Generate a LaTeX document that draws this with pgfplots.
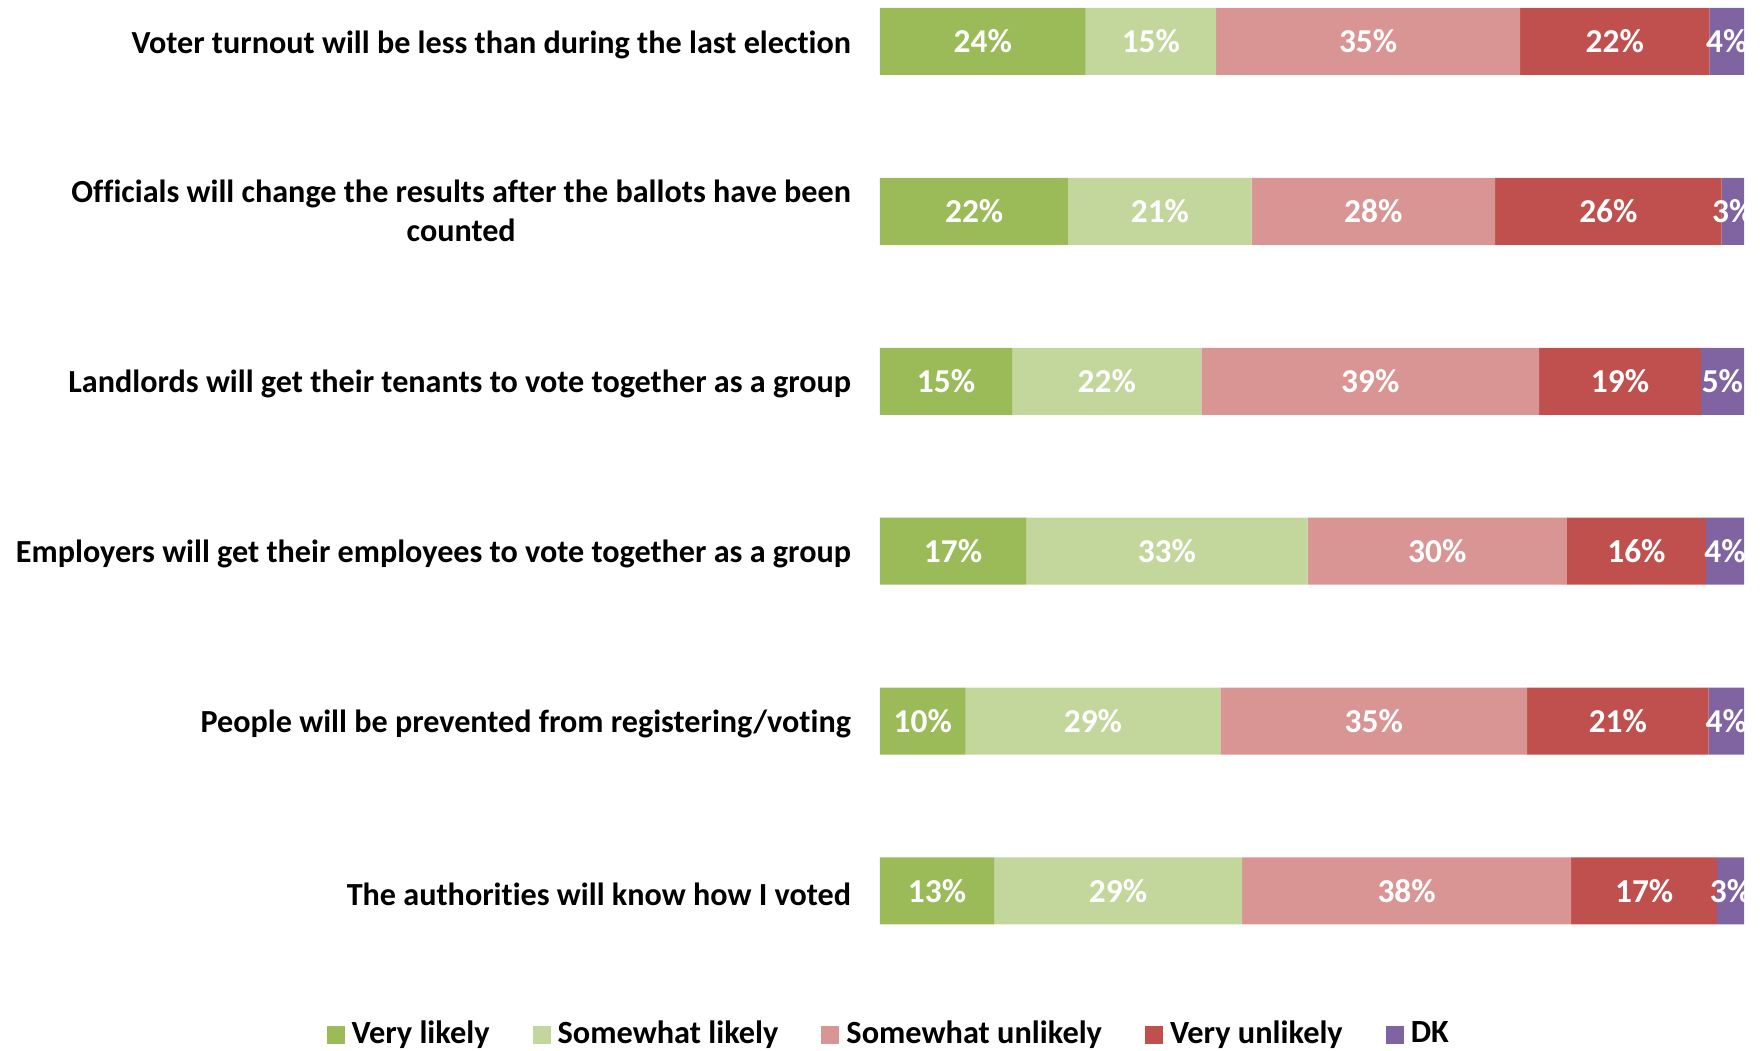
\documentclass[border=0pt]{standalone}
\usepackage{pgfplots}
\pgfplotsset{compat=1.18}
\usepackage{fontspec}
\setmainfont{Carlito}[Ligatures=NoCommon]
\definecolor{cVL}{HTML}{9BBB59}
\definecolor{cSL}{HTML}{C3D69B}
\definecolor{cSU}{HTML}{D99594}
\definecolor{cVU}{HTML}{C0504D}
\definecolor{cDK}{HTML}{8064A2}
\begin{document}
\begin{tikzpicture}
\useasboundingbox (0,0) rectangle (17.6,-10.51);
\begin{axis}[
  at={(8.80cm,0cm)}, anchor=north west,
  scale only axis, width=8.64cm, height=10.0cm,
  xbar stacked, bar width=0.67cm,
  xmin=0, xmax=100,
  ymin=-0.244, ymax=5.642, y dir=reverse,
  hide x axis,
  y axis line style={draw=none},
  major tick length=0pt,
  ytick={0,1,2,3,4,5},
  yticklabels={
    Voter turnout will be less than during the last election,
    {\raisebox{0.45mm}{\begin{tabular}{@{}c@{}}Officials will change the results after the ballots have been\\counted\end{tabular}}},
    Landlords will get their tenants to vote together as a group,
    Employers will get their employees to vote together as a group,
    People will be prevented from registering/voting,
    The authorities will know how I voted},
  yticklabel style={font=\fontsize{9.15}{11.1}\selectfont\bfseries, align=center, xshift=-0.166cm, yshift=-0.03cm},
  point meta=explicit symbolic,
  nodes near coords,
  every node near coord/.append style={font=\fontsize{9.5}{11}\selectfont\bfseries, text=white, anchor=center, inner sep=0pt},
  legend columns=5,
  legend style={draw=none, at={(0.013,-0.035)}, anchor=center, font=\fontsize{9.2}{11}\selectfont\bfseries,
    /tikz/every even column/.append style={column sep=0.36cm}},
  legend image code/.code={\fill[#1] (0cm,-0.09cm) rectangle (0.18cm,0.09cm);},
]
\addplot[fill=cVL, draw=none] coordinates {(23.8,0) [24\%] (21.8,1) [22\%] (15.3,2) [15\%] (16.9,3) [17\%] (9.9,4) [10\%] (13.2,5) [13\%]};
\addplot[fill=cSL, draw=none] coordinates {(15.1,0) [15\%] (21.2,1) [21\%] (21.9,2) [22\%] (32.6,3) [33\%] (29.5,4) [29\%] (28.7,5) [29\%]};
\addplot[fill=cSU, draw=none] coordinates {(35.2,0) [35\%] (28.2,1) [28\%] (39.1,2) [39\%] (30.0,3) [30\%] (35.5,4) [35\%] (38.1,5) [38\%]};
\addplot[fill=cVU, draw=none] coordinates {(21.9,0) [22\%] (26.2,1) [26\%] (18.7,2) [19\%] (16.1,3) [16\%] (21.0,4) [21\%] (16.9,5) [17\%]};
\addplot[fill=cDK, draw=none] coordinates {(4.0,0) [4\%] (2.6,1) [3\%] (5.0,2) [5\%] (4.4,3) [4\%] (4.1,4) [4\%] (3.1,5) [3\%]};
\legend{Very likely, Somewhat likely, Somewhat unlikely, Very unlikely, DK}
\end{axis}
\end{tikzpicture}
\end{document}
